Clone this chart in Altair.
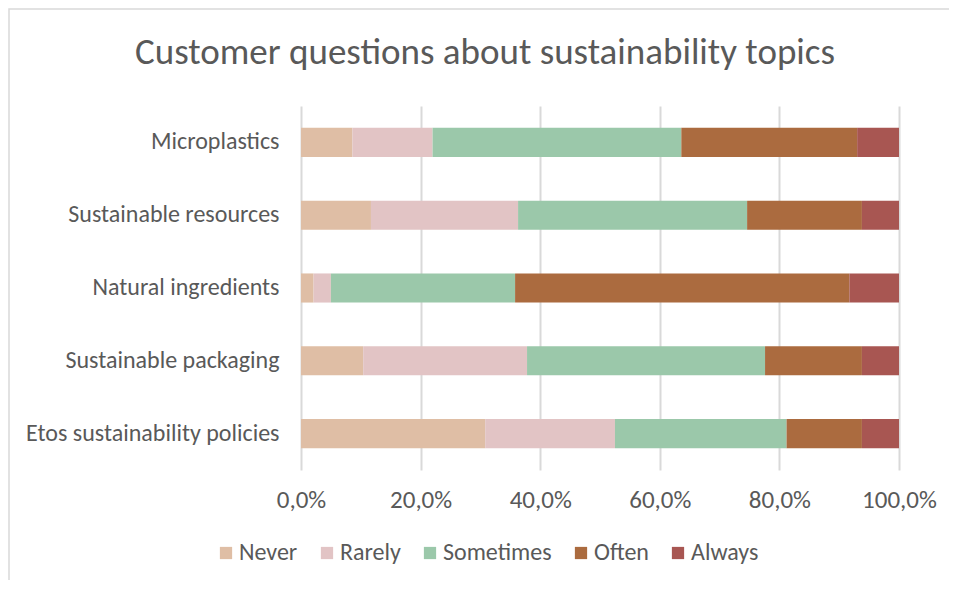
import altair as alt
import pandas as pd

topics = ["Microplastics", "Sustainable resources", "Natural ingredients",
          "Sustainable packaging", "Etos sustainability policies"]
levels = ["Never", "Rarely", "Sometimes", "Often", "Always"]
never = [8.6, 11.7, 2.1, 10.4, 30.8]
rarely = [13.4, 24.6, 2.9, 27.4, 21.7]
sometimes = [41.6, 38.3, 30.8, 39.8, 28.7]
often = [29.4, 19.2, 55.9, 16.2, 12.6]
always = [7.0, 6.2, 8.3, 6.2, 6.2]
colors = ["#DFBEA5", "#E2C4C5", "#9BC8AA", "#AB6B3F", "#A85652"]

series = [never, rarely, sometimes, often, always]
rows = []
for li, (lvl, vals) in enumerate(zip(levels, series)):
    for t, v in zip(topics, vals):
        rows.append({"topic": t, "level": lvl, "order": li, "value": v})
df = pd.DataFrame(rows)

FONT = "Carlito, Calibri, Lato, sans-serif"
GREY = "#595959"

bars = alt.Chart(df).mark_bar().encode(
    y=alt.Y("topic:N", sort=topics, title=None,
            scale=alt.Scale(paddingInner=0.6, paddingOuter=0.3),
            axis=alt.Axis(ticks=False, domain=False, labelFontSize=24,
                          labelPadding=22, labelColor=GREY, labelFont=FONT,
                          labelLimit=400)),
    x=alt.X("value:Q", stack="normalize", title=None,
            scale=alt.Scale(domain=[0, 1], nice=False),
            axis=alt.Axis(values=[0, 0.2, 0.4, 0.6, 0.8, 1.0],
                          labelExpr="replace(format(datum.value, '.1%'), '.', ',')",
                          ticks=False, domain=False, grid=True, labelFlush=False,
                          gridColor="#D9D9D9", gridWidth=2,
                          labelFontSize=25, labelPadding=17, labelColor=GREY,
                          labelFont=FONT)),
    color=alt.Color("level:N", sort=levels,
                    scale=alt.Scale(domain=levels, range=colors),
                    legend=alt.Legend(title=None, orient="none", direction="horizontal",
                                      legendX=-87, legendY=435,
                                      symbolType="square", symbolSize=150,
                                      symbolStrokeWidth=0,
                                      labelFontSize=24, labelColor=GREY, labelFont=FONT,
                                      columnPadding=17, labelOffset=1)),
    order=alt.Order("order:Q"),
)

# light grey chart border (decoration)
frame = alt.Chart(pd.DataFrame({"k": [0]})).mark_rect(
    fill="transparent", stroke="#D9D9D9", strokeWidth=1.5
).encode(
    x=alt.value(-292), x2=alt.value(655),
    y=alt.value(-97), y2=alt.value(520),
)

chart = alt.layer(frame, bars).properties(
    width=598, height=364,
    autosize=alt.AutoSizeParams(type="none"),
    padding={"left": 293, "top": 98, "right": 50, "bottom": 110},
    title=alt.TitleParams("Customer questions about sustainability topics",
                          fontSize=37, font=FONT, fontWeight="normal",
                          color=GREY, anchor="middle", dx=-115, offset=-93,
                          baseline="alphabetic", frame="group"),
).configure_view(stroke=None)

chart.save("out.html", embed_options={"renderer": "svg", "actions": False})
